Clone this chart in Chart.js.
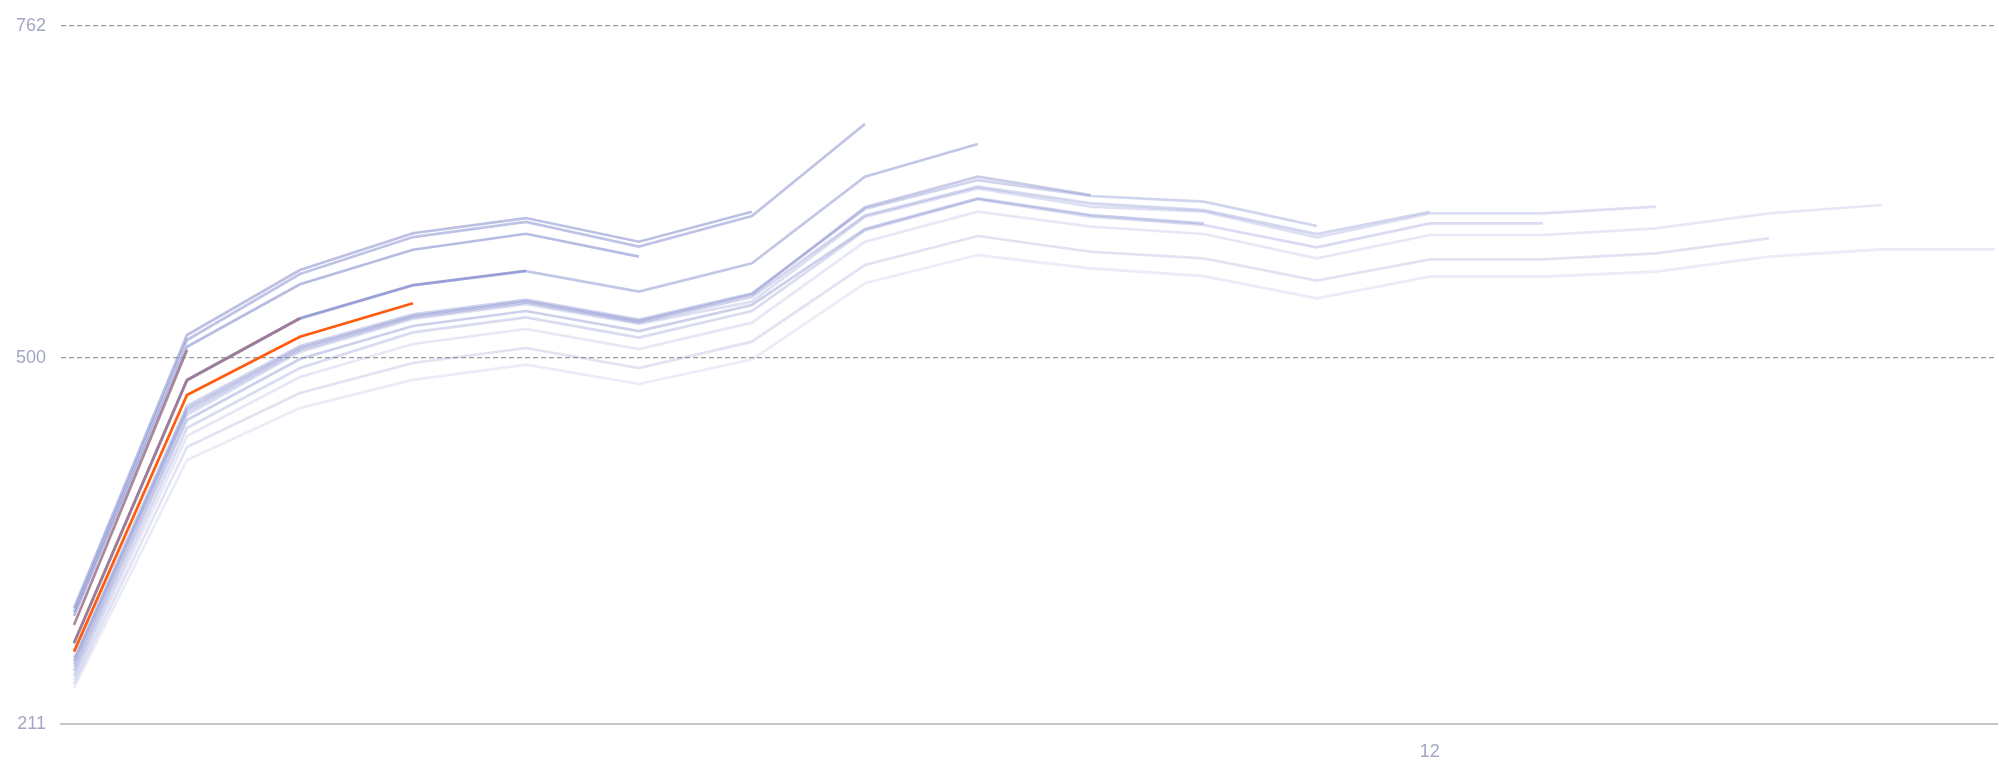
<!DOCTYPE html>
<html>
<head>
<meta charset="utf-8">
<script src="https://cdn.jsdelivr.net/npm/chart.js@4.4.1/dist/chart.umd.min.js"></script>
<style>
  html, body { margin: 0; padding: 0; background: #fff; }
  #wrap { width: 1999px; height: 769px; position: relative; }
</style>
</head>
<body>
<div id="wrap"><canvas id="chart"></canvas></div>
<script>
// month index on the x axis
const months = [0, 1, 2, 3, 4, 5, 6, 7, 8, 9, 10, 11, 12, 13, 14, 15, 16, 17];
const yTicks = [211, 500, 762];
const xTicks = [12];

// cohorts, oldest first (each one is one month shorter)
const cohort1 = [239.4, 419.4, 460.4, 482.6, 494.6, 479.4, 498.7, 558.9, 581.2, 570.7, 564.6, 547.0, 564.1, 564.1, 568.1, 579.9, 585.7, 585.7];
const cohort2 = [245.7, 438.3, 484.9, 511.0, 522.8, 507.0, 527.8, 591.7, 615.4, 603.6, 597.8, 578.6, 597.0, 597.0, 602.3, 614.1, 620.7];
const cohort3 = [242.6, 429.7, 472.3, 496.0, 507.8, 492.0, 512.8, 573.3, 596.2, 583.8, 578.6, 561.0, 577.8, 577.8, 582.5, 594.4];
const cohort4 = [256.0, 454.9, 504.7, 530.7, 542.5, 526.8, 544.4, 611.2, 633.8, 619.4, 615.4, 595.2, 614.1, 614.1, 619.4];
const cohort5 = [248.9, 444.7, 492.0, 520.1, 531.9, 516.1, 537.0, 600.6, 625.2, 611.5, 604.9, 587.3, 606.2, 606.2];
const cohort6 = [258.4, 457.3, 506.2, 531.9, 543.7, 527.9, 548.1, 612.4, 635.2, 622.0, 616.7, 597.8, 615.4];
const cohort7 = [263.1, 462.0, 509.4, 534.3, 546.1, 530.3, 551.0, 617.5, 640.4, 627.8, 623.3, 604.1];
const cohort8 = [252.8, 451.0, 499.1, 525.2, 537.0, 521.2, 541.8, 601.8, 625.9, 612.8, 606.2];
const cohort9 = [260.7, 459.7, 507.8, 533.1, 544.9, 529.1, 550.0, 619.0, 643.0, 628.6];
const cohort10 = [274.5, 482.2, 531.0, 557.2, 568.5, 552.3, 574.7, 643.0, 668.8];
const cohort11 = [299.4, 514.1, 566.2, 595.4, 607.3, 587.8, 612.0, 684.6];
const cohort12 = [302.6, 518.1, 569.4, 598.4, 610.4, 591.7, 615.4];
const cohort13 = [296.3, 508.8, 558.1, 585.4, 598.0, 579.9];
const cohort14 = [274.9, 482.6, 531.3, 557.5, 568.8];
const cohort15 = [268.1, 470.7, 516.7, 543.1];
const cohort16 = [274.9, 482.6, 531.3];
const cohort17 = [289.1, 506.2];

const purpleCohorts = [cohort1, cohort2, cohort3, cohort4, cohort5, cohort6, cohort7,
  cohort8, cohort9, cohort10, cohort11, cohort12, cohort13, cohort14];

function toPoints(values) {
  return values.map((v, i) => ({ x: months[i], y: v }));
}

function lineDataset(values, color) {
  return {
    data: toPoints(values),
    borderColor: color,
    borderWidth: 2.7,
    pointRadius: 0,
    pointHoverRadius: 0,
    tension: 0,
    fill: false
  };
}

// newest on top: the first dataset is drawn last
const datasets = [
  lineDataset(cohort17, 'rgba(160, 120, 140, 0.88)'),
  lineDataset(cohort16, 'rgba(160, 120, 140, 0.88)'),
  lineDataset(cohort15, '#ff5b0d')
];
for (let k = purpleCohorts.length - 1; k >= 0; k--) {
  const alpha = 0.15 + (k / (purpleCohorts.length - 1)) * 0.4;
  datasets.push(lineDataset(purpleCohorts[k], `rgba(115, 125, 200, ${alpha.toFixed(3)})`));
}

const labelColor = '#a3a6c4';
const labelFont = { family: "'Liberation Sans', Arial, sans-serif", size: 18 };

new Chart(document.getElementById('chart'), {
  type: 'line',
  data: { datasets: datasets },
  options: {
    responsive: true,
    maintainAspectRatio: false,
    animation: false,
    layout: { padding: { top: 26, right: 2, left: 0, bottom: 0 } },
    plugins: {
      legend: { display: false },
      tooltip: { enabled: false }
    },
    scales: {
      x: {
        type: 'linear',
        min: -0.115,
        max: 17.02,
        afterBuildTicks: (scale) => { scale.ticks = xTicks.map(v => ({ value: v })); },
        afterFit: (scale) => { scale.height = 45; },
        grid: { display: false, drawTicks: false },
        border: { display: true, color: '#c6c6c6', width: 2 },
        ticks: {
          padding: 17,
          color: labelColor,
          font: labelFont,
          maxRotation: 0,
          callback: (v) => String(v)
        }
      },
      y: {
        type: 'linear',
        min: yTicks[0],
        max: yTicks[yTicks.length - 1],
        afterBuildTicks: (scale) => { scale.ticks = yTicks.map(v => ({ value: v })); },
        afterFit: (scale) => { scale.width = 61; },
        grid: {
          drawTicks: false,
          lineWidth: 1.2,
          color: (ctx) => (ctx.tick && ctx.tick.value === yTicks[0]) ? 'rgba(0,0,0,0)' : '#9a9a9a'
        },
        border: { display: false, dash: [5, 3] },
        ticks: {
          padding: 15,
          color: labelColor,
          font: labelFont,
          callback: (v) => String(v)
        }
      }
    }
  }
});
</script>
</body>
</html>
